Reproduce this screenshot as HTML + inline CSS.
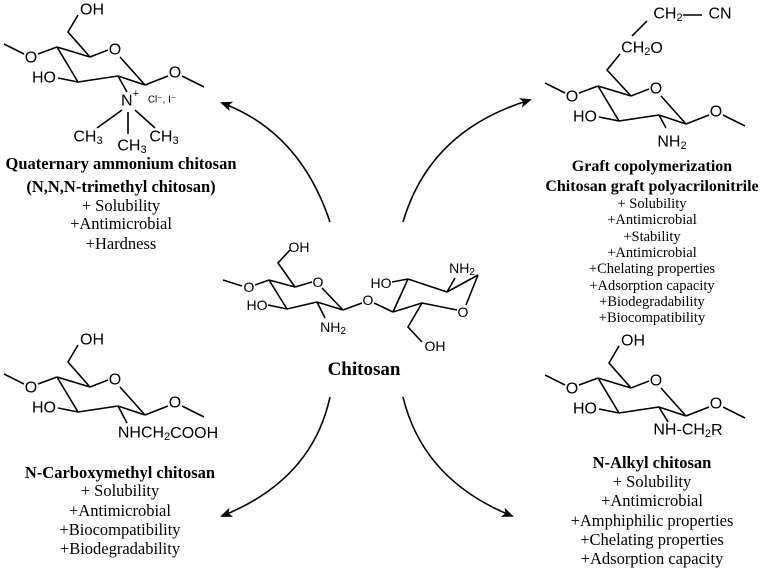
<!DOCTYPE html>
<html><head><meta charset="utf-8"><style>
html,body{margin:0;padding:0;background:#fff;}
svg{display:block;}
.s{font-family:"Liberation Sans",sans-serif;font-size:16px;fill:#000;}
.c{font-family:"Liberation Sans",sans-serif;font-size:14px;fill:#000;}
.t{font-family:"Liberation Serif",serif;font-size:16.5px;fill:#000;text-anchor:middle;}
.u{font-family:"Liberation Serif",serif;font-size:14.5px;fill:#000;text-anchor:middle;}
.b{font-weight:bold;}
line,polyline,path{stroke:#000;stroke-width:1.6;fill:none;}
</style></head><body>
<svg width="762" height="569" viewBox="0 0 762 569" xmlns="http://www.w3.org/2000/svg">
<defs>
<marker id="ah" markerWidth="12" markerHeight="10" refX="10" refY="5" orient="auto" markerUnits="userSpaceOnUse">
<path d="M0,0 L12,5 L0,10 L3,5 Z" style="fill:#000;stroke:none"/>
</marker>
<g id="ring">
<line x1="4" y1="44" x2="24" y2="54"/>
<text class="s" x="31" y="58" text-anchor="middle" dominant-baseline="central">O</text>
<line x1="38" y1="54" x2="57" y2="47"/>
<line x1="57" y1="47" x2="90" y2="57"/>
<line x1="90" y1="57" x2="108" y2="50"/>
<text class="s" x="115" y="50" text-anchor="middle" dominant-baseline="central">O</text>
<line x1="120" y1="57" x2="145" y2="85"/>
<line x1="145" y1="85" x2="118" y2="76"/>
<line x1="118" y1="76" x2="78" y2="82"/>
<line x1="78" y1="82" x2="58" y2="78"/>
<text class="s" x="44" y="78" text-anchor="middle" dominant-baseline="central">HO</text>
<line x1="57" y1="47" x2="78" y2="82"/>
<line x1="145" y1="85" x2="168" y2="76"/>
<text class="s" x="175" y="73" text-anchor="middle" dominant-baseline="central">O</text>
<line x1="182" y1="76" x2="204" y2="87"/>
</g>
<g id="c6oh">
<polyline points="90,57 68,32 78,15"/>
<text class="s" x="92" y="10" text-anchor="middle" dominant-baseline="central">OH</text>
</g>
</defs>

<!-- Top-left -->
<use href="#ring"/><use href="#c6oh"/>
<line x1="118" y1="76" x2="127" y2="92"/>
<text class="s" x="130" y="101" text-anchor="middle" dominant-baseline="central">N<tspan dy="-7" style="font-size:11px">+</tspan></text>
<text x="162" y="100" style="font-family:'Liberation Sans',sans-serif;font-size:10px" text-anchor="middle" dominant-baseline="central">Cl⁻, I⁻</text>
<line x1="122" y1="110" x2="97" y2="128"/>
<line x1="128" y1="112" x2="128" y2="134"/>
<line x1="135" y1="110" x2="155" y2="128"/>
<text class="s" x="88" y="137" text-anchor="middle" dominant-baseline="central">CH<tspan style="font-size:11px" dy="4">3</tspan></text>
<text class="s" x="132" y="146" text-anchor="middle" dominant-baseline="central">CH<tspan style="font-size:11px" dy="4">3</tspan></text>
<text class="s" x="164" y="137" text-anchor="middle" dominant-baseline="central">CH<tspan style="font-size:11px" dy="4">3</tspan></text>
<text class="t b" x="121" y="169">Quaternary ammonium chitosan</text>
<text class="t b" x="121" y="192">(N,N,N-trimethyl chitosan)</text>
<text class="t" x="121" y="211">+ Solubility</text>
<text class="t" x="121" y="229">+Antimicrobial</text>
<text class="t" x="121" y="249">+Hardness</text>

<!-- Top-right -->
<g transform="translate(541,39)"><use href="#ring"/></g>
<line x1="659" y1="115" x2="666" y2="128"/>
<text class="s" x="672" y="142" text-anchor="middle" dominant-baseline="central">NH<tspan style="font-size:11px" dy="4">2</tspan></text>
<polyline points="631,96 607,70 620,54"/>
<text class="s" x="642" y="48" text-anchor="middle" dominant-baseline="central">CH<tspan style="font-size:11px" dy="4">2</tspan><tspan dy="-4">O</tspan></text>
<line x1="632" y1="36" x2="647" y2="21"/>
<text class="s" x="668" y="14" text-anchor="middle" dominant-baseline="central">CH<tspan style="font-size:11px" dy="4">2</tspan></text>
<line x1="683" y1="15" x2="702" y2="15"/>
<text class="s" x="720" y="14" text-anchor="middle" dominant-baseline="central">CN</text>
<text class="t b" x="652" y="171" style="font-size:16px">Graft copolymerization</text>
<text class="t b" x="652" y="191" style="font-size:16px">Chitosan graft polyacrilonitrile</text>
<text class="u" x="652" y="208">+ Solubility</text>
<text class="u" x="652" y="224">+Antimicrobial</text>
<text class="u" x="652" y="241">+Stability</text>
<text class="u" x="652" y="257">+Antimicrobial</text>
<text class="u" x="652" y="273">+Chelating properties</text>
<text class="u" x="652" y="290">+Adsorption capacity</text>
<text class="u" x="652" y="306">+Biodegradability</text>
<text class="u" x="652" y="322">+Biocompatibility</text>

<!-- Center chitosan -->
<line x1="223" y1="280" x2="242" y2="286"/>
<text class="c" x="249" y="287" text-anchor="middle" dominant-baseline="central">O</text>
<line x1="255" y1="285" x2="269" y2="280"/>
<line x1="269" y1="280" x2="295" y2="287"/>
<line x1="295" y1="287" x2="312" y2="282"/>
<text class="c" x="318" y="282" text-anchor="middle" dominant-baseline="central">O</text>
<line x1="322" y1="288" x2="343" y2="310"/>
<line x1="343" y1="310" x2="317" y2="302"/>
<line x1="317" y1="302" x2="287" y2="309"/>
<line x1="287" y1="309" x2="268" y2="305"/>
<text class="c" x="257" y="305" text-anchor="middle" dominant-baseline="central">HO</text>
<line x1="269" y1="280" x2="287" y2="309"/>
<polyline points="295,287 278,263 290,250"/>
<text class="c" x="299" y="247" text-anchor="middle" dominant-baseline="central">OH</text>
<line x1="317" y1="302" x2="325" y2="318"/>
<text class="c" x="333" y="327" text-anchor="middle" dominant-baseline="central">NH<tspan style="font-size:10px" dy="4">2</tspan></text>
<line x1="343" y1="310" x2="362" y2="303"/>
<text class="c" x="368" y="300" text-anchor="middle" dominant-baseline="central">O</text>
<line x1="374" y1="303" x2="393" y2="312"/>
<text class="c" x="381" y="283" text-anchor="middle" dominant-baseline="central">HO</text>
<line x1="392" y1="282" x2="408" y2="279"/>
<line x1="408" y1="279" x2="447" y2="292"/>
<line x1="447" y1="292" x2="478" y2="275"/>
<line x1="478" y1="275" x2="466" y2="305"/>
<text class="c" x="463" y="312" text-anchor="middle" dominant-baseline="central">O</text>
<line x1="457" y1="310" x2="422" y2="303"/>
<line x1="422" y1="303" x2="393" y2="312"/>
<line x1="393" y1="312" x2="408" y2="279"/>
<line x1="447" y1="292" x2="455" y2="278"/>
<text class="c" x="462" y="268" text-anchor="middle" dominant-baseline="central">NH<tspan style="font-size:10px" dy="4">2</tspan></text>
<polyline points="422,303 408,327 422,342"/>
<text class="c" x="435" y="346" text-anchor="middle" dominant-baseline="central">OH</text>
<text class="t b" x="364" y="375" style="font-size:19px">Chitosan</text>

<!-- Bottom-left -->
<g transform="translate(0,330)"><use href="#ring"/><use href="#c6oh"/></g>
<line x1="118" y1="406" x2="127" y2="423"/>
<text class="s" x="168" y="433" text-anchor="middle" dominant-baseline="central">NHCH<tspan style="font-size:11px" dy="4">2</tspan><tspan dy="-4">COOH</tspan></text>
<text class="t b" x="120" y="478">N-Carboxymethyl chitosan</text>
<text class="t" x="120" y="496">+ Solubility</text>
<text class="t" x="120" y="516">+Antimicrobial</text>
<text class="t" x="120" y="535">+Biocompatibility</text>
<text class="t" x="120" y="554">+Biodegradability</text>

<!-- Bottom-right -->
<g transform="translate(541,331)"><use href="#ring"/><use href="#c6oh"/></g>
<line x1="659" y1="407" x2="668" y2="422"/>
<text class="s" x="688" y="430" text-anchor="middle" dominant-baseline="central">NH-CH<tspan style="font-size:11px" dy="4">2</tspan><tspan dy="-4">R</tspan></text>
<text class="t b" x="652" y="468">N-Alkyl chitosan</text>
<text class="t" x="652" y="487">+ Solubility</text>
<text class="t" x="652" y="506">+Antimicrobial</text>
<text class="t" x="652" y="526">+Amphiphilic properties</text>
<text class="t" x="652" y="545">+Chelating properties</text>
<text class="t" x="652" y="564">+Adsorption capacity</text>

<!-- Arrows -->
<path d="M330,222 Q300,132 222,103" stroke-width="2.2" marker-end="url(#ah)"/>
<path d="M403,222 Q430,130 530,100" stroke-width="2.2" marker-end="url(#ah)"/>
<path d="M330,397 Q312,480 222,516" stroke-width="2.2" marker-end="url(#ah)"/>
<path d="M403,397 Q423,480 512,516" stroke-width="2.2" marker-end="url(#ah)"/>
</svg>
</body></html>
